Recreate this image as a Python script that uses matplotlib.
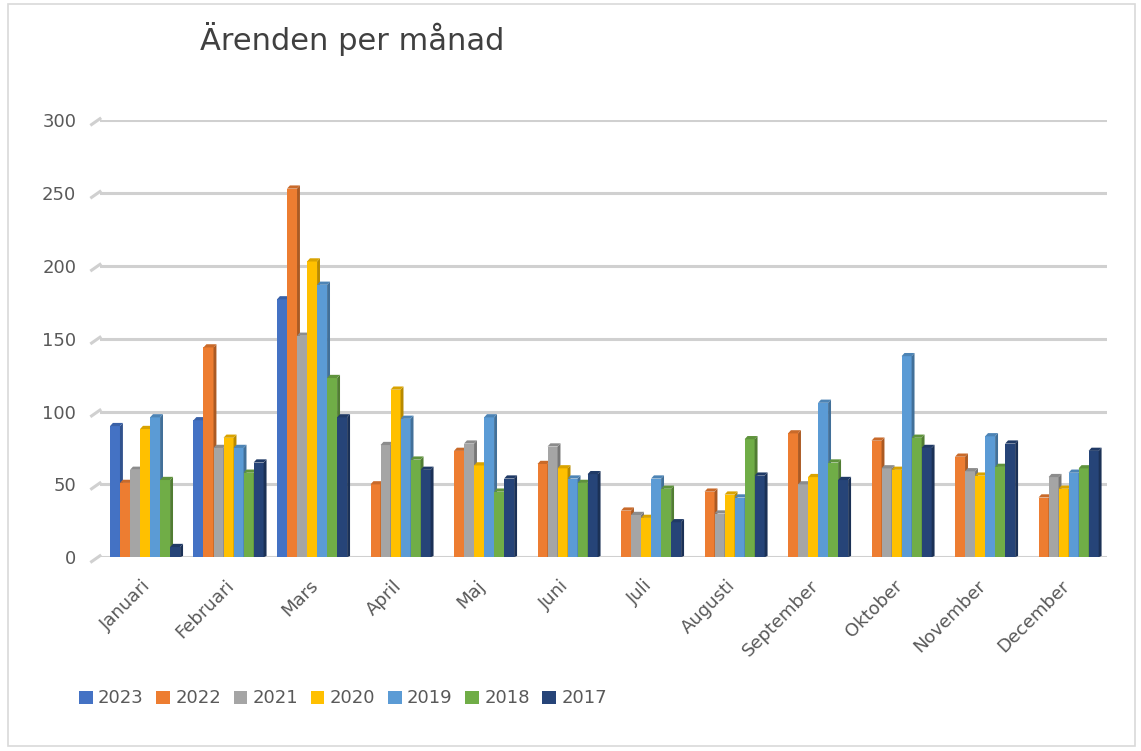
"""
Ärenden per månad - grupperat stapeldiagram (2017-2023)
med en enkel 3D-känsla på staplarna
"""

import matplotlib.pyplot as plt
import matplotlib.colors as mcolors
from matplotlib.patches import Polygon, Rectangle
import numpy as np

# månader på x-axeln
months = ["Januari", "Februari", "Mars", "April", "Maj", "Juni", "Juli",
          "Augusti", "September", "Oktober", "November", "December"]

# antal ärenden per år (None = inget värde)
y2023 = [90, 94, 177, None, None, None, None, None, None, None, None, None]
y2022 = [51, 144, 253, 50, 73, 64, 32, 45, 85, 80, 69, 41]
y2021 = [60, 75, 152, 77, 78, 76, 29, 30, 50, 61, 59, 55]
y2020 = [88, 82, 203, 115, 63, 61, 27, 43, 55, 60, 56, 47]
y2019 = [96, 75, 187, 95, 96, 54, 54, 41, 106, 138, 83, 58]
y2018 = [53, 58, 123, 67, 45, 51, 47, 81, 65, 82, 62, 61]
y2017 = [7, 65, 96, 60, 54, 57, 24, 56, 53, 75, 78, 73]

years = ["2023", "2022", "2021", "2020", "2019", "2018", "2017"]
series = [y2023, y2022, y2021, y2020, y2019, y2018, y2017]
colors = ["#4472C4", "#ED7D31", "#A5A5A5", "#FFC000",
          "#5B9BD5", "#70AD47", "#264478"]

y_ticks = [0, 50, 100, 150, 200, 250, 300]


def shade(color, k):
    """mörkare variant av en färg"""
    r, g, b = mcolors.to_rgb(color)
    return (r * k, g * k, b * k)


fig = plt.figure(figsize=(11.41, 7.51), dpi=100)
ax = fig.add_axes([0.0876, 0.258, 0.8826, 0.582])

# ram runt hela diagrammet
fig.patches.append(Rectangle((0.007, 0.007), 0.988, 0.988,
                             transform=fig.transFigure, fill=False,
                             edgecolor="#d9d9d9", linewidth=1.2))

x = np.arange(len(months))
w = 0.12
dx = 0.035  # djup i x-led (sidan)
dy = 2.2    # djup i y-led (toppen)

for j, (name, vals, col) in enumerate(zip(years, series, colors)):
    pos = x + (j - 3) * w
    h = [v if v is not None else 0 for v in vals]
    ax.bar(pos, h, width=w, color=col, label=name, zorder=3,
           edgecolor="none")
    for p, v in zip(pos, vals):
        if v is None:
            continue
        # högersidan
        ax.add_patch(Polygon([(p + w / 2, 0), (p + w / 2 + dx, dy * 0.4),
                              (p + w / 2 + dx, v + dy), (p + w / 2, v)],
                             closed=True, color=shade(col, 0.72), zorder=3,
                             linewidth=0))
        # toppen
        ax.add_patch(Polygon([(p - w / 2, v), (p + w / 2, v),
                              (p + w / 2 + dx, v + dy),
                              (p - w / 2 + dx, v + dy)],
                             closed=True, color=shade(col, 0.85), zorder=3,
                             linewidth=0))

# rutnät med ett litet snett streck till vänster
ax.set_xlim(-0.54, 11.52)
ax.set_ylim(0, 300)
for t in y_ticks:
    ax.axhline(t, color="#d0d0d0", linewidth=2.2, zorder=1)
    ax.plot([-0.64, -0.54], [t - 3, t + 1], color="#d0d0d0",
            linewidth=2.2, clip_on=False, zorder=1)

ax.set_yticks(y_ticks)
ax.set_xticks(x - 0.04)
ax.set_xticklabels(months, rotation=45, ha="right", rotation_mode="anchor")
ax.tick_params(axis="both", length=0, labelsize=13, colors="#595959")
ax.tick_params(axis="y", pad=17)
ax.tick_params(axis="x", pad=14)
for s in ax.spines.values():
    s.set_visible(False)

fig.text(0.175, 0.948, "Ärenden per månad", fontsize=22,
         color="#404040", va="center", ha="left")

leg = fig.legend(loc="center left", bbox_to_anchor=(0.055, 0.07),
                 ncol=7, frameon=False, fontsize=13, handlelength=0.75,
                 handleheight=0.75, handletextpad=0.3, columnspacing=0.7,
                 labelcolor="#595959")

plt.savefig("out.png", dpi=100)
